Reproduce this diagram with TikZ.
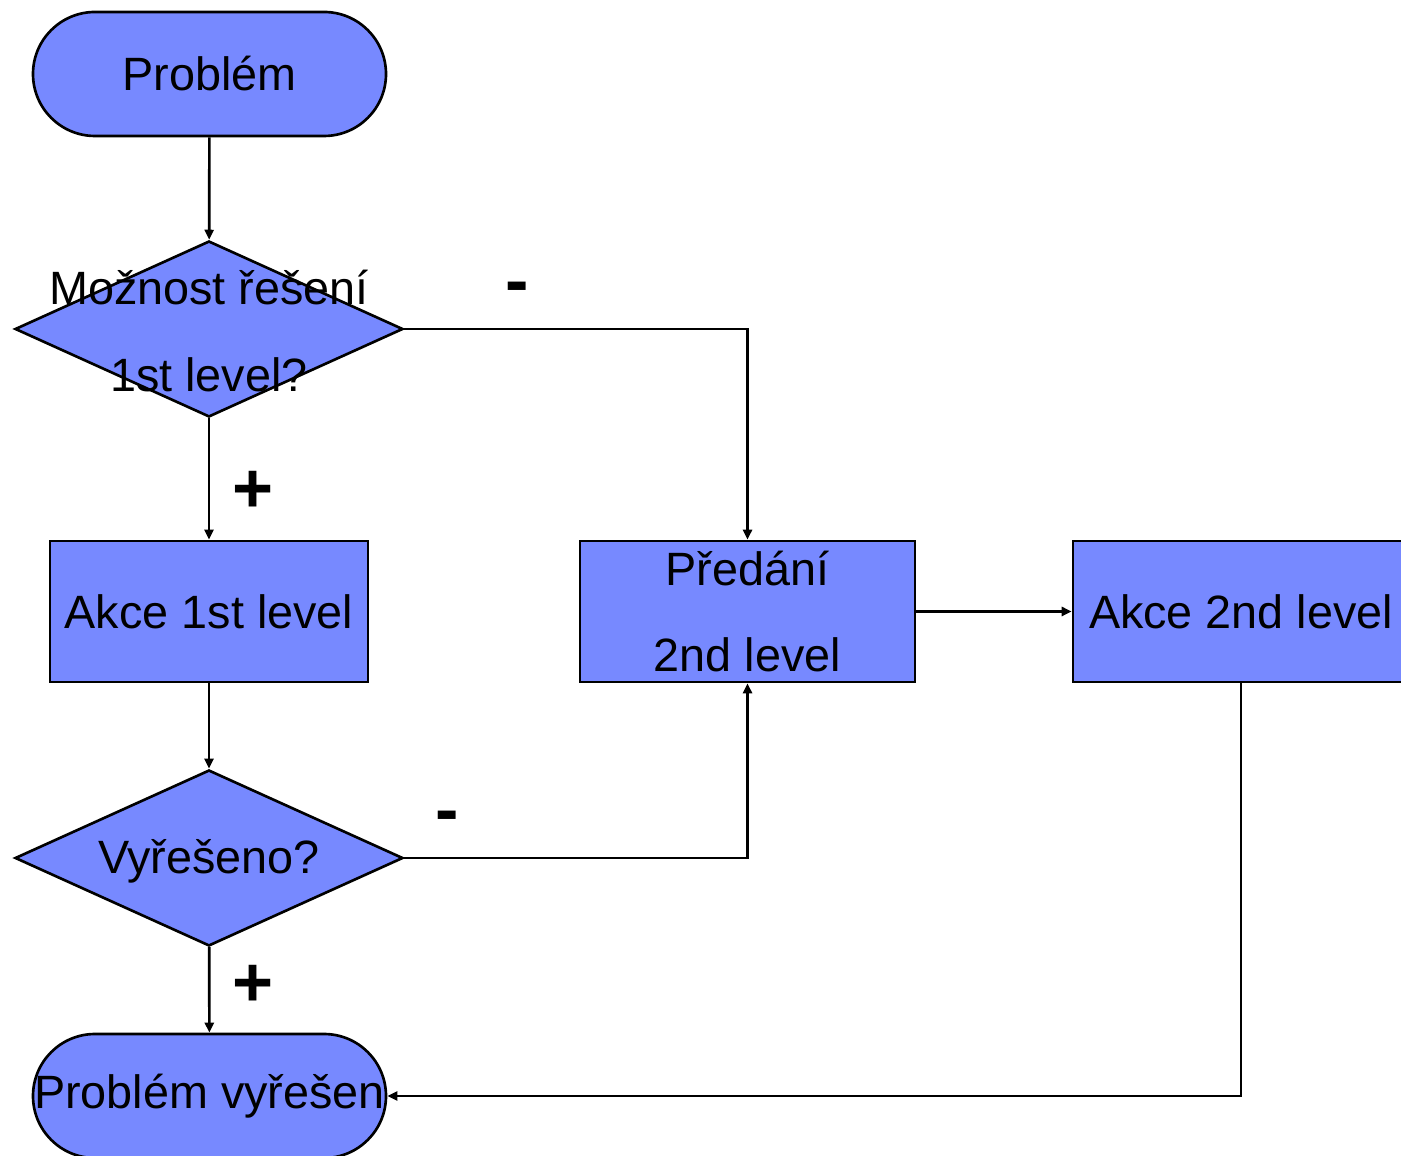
\documentclass[tikz,border=0pt]{standalone}
\usepackage{fontspec}
\setmainfont{Liberation Sans}
\usepackage{xcolor}
\usetikzlibrary{shapes.geometric,arrows.meta}
\definecolor{boxblue}{RGB}{119,137,255}

\begin{document}
\begin{tikzpicture}[x=1cm, y=-1cm,
  every node/.style={font=\fontsize{13.3pt}{24.5pt}\selectfont},
  shp/.style={draw, fill=boxblue, line width=0.75pt, inner sep=0pt},
  term/.style={shp, rectangle, rounded corners=0.62cm, minimum width=3.53cm, minimum height=1.24cm},
  dec/.style={shp, diamond, minimum width=3.88cm, minimum height=1.76cm},
  act/.style={shp, rectangle, minimum height=1.41cm},
  txt/.style={align=center, inner sep=0pt},
  sign/.style={font=\fontsize{20pt}{20pt}\selectfont\bfseries, inner sep=0pt},
  arr/.style={-{Triangle[length=1mm,width=0.9mm]}, line width=0.75pt}]
  \useasboundingbox (0,0) rectangle (14.01,11.56);
  \node[term] (prob) at (2.095,0.74) {Problém};
  \node[dec] (d1) at (2.09,3.29) {};
  \node[txt] (t1) at (2.09,3.31) {Možnost řešení\\1st level?};
  \node[act, minimum width=3.18cm] (ak1) at (2.09,6.115) {Akce 1st level};
  \node[act, minimum width=3.35cm, txt] (pred) at (7.475,6.115) {Předání\\2nd level};
  \node[act, minimum width=3.36cm] (ak2) at (12.41,6.115) {Akce 2nd level};
  \node[dec] (d2) at (2.09,8.58) {};
  \node[txt] (t2) at (2.09,8.61) {Vyřešeno?};
  \node[term] (solved) at (2.095,10.96) {Problém vyřešen};
  \draw[arr] (prob) -- (d1);
  \draw[arr] (d1.east) -| (pred.north);
  \draw[arr] (d1) -- (ak1);
  \draw[arr] (ak1) -- (d2);
  \draw[arr] (d2.east) -| (pred.south);
  \draw[arr] (pred) -- (ak2);
  \draw[arr] (ak2.south) |- (solved.east);
  \draw[arr] (d2) -- (solved);
  \node[sign] (m1) at (5.17,2.93) {-};
  \node[sign] (p1) at (2.53,4.92) {+};
  \node[sign] (m2) at (4.47,8.22) {-};
  \node[sign] (p2) at (2.53,9.86) {+};
\end{tikzpicture}
\end{document}
